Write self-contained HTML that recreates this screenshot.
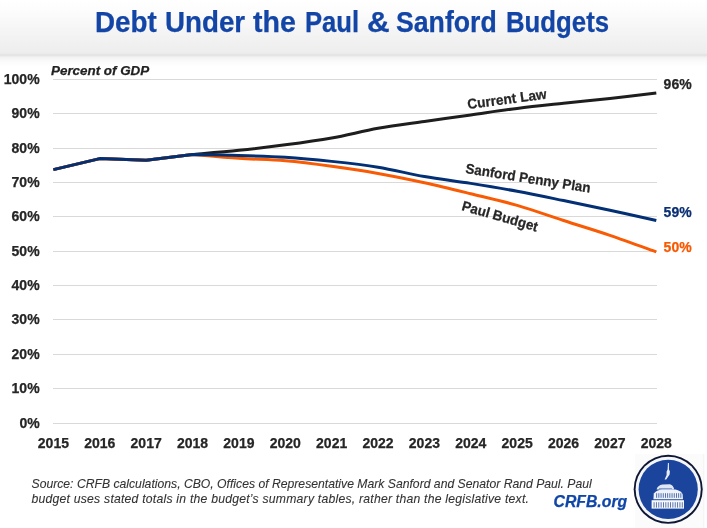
<!DOCTYPE html>
<html><head><meta charset="utf-8">
<style>
*{margin:0;padding:0;box-sizing:border-box}
html,body{width:707px;height:528px;overflow:hidden;background:#fff}
body{position:relative;will-change:transform;-webkit-text-stroke:0.25px currentColor;font-family:"Liberation Sans",sans-serif}
.bar{position:absolute;left:0;top:0;width:707px;height:67px;background:linear-gradient(#ffffff 0px,#fcfcfc 12px,#f5f5f5 30px,#efefef 47px,#eeeeee 52px,#ebebeb 53.5px,#e1e1e1 55px,#ebebeb 56.3px,#f3f3f3 57.5px,#fafafa 61px,#ffffff 66px)}
.title{position:absolute;top:8px;font-size:28.8px;line-height:28.8px;font-weight:bold;color:#1245a6;white-space:nowrap;transform-origin:0 0}
.pog{position:absolute;left:51px;top:63.6px;font-size:13.4px;line-height:13.4px;font-weight:bold;font-style:italic;color:#222;white-space:nowrap}
.yl{position:absolute;right:667.4px;font-size:14px;line-height:14px;font-weight:bold;color:#262626;text-align:right;white-space:nowrap}
.xl{position:absolute;width:60px;font-size:14px;line-height:14px;font-weight:bold;color:#262626;text-align:center;white-space:nowrap}
.rl{position:absolute;font-size:14px;line-height:14px;font-weight:bold;color:#262626;white-space:nowrap}
.el{position:absolute;left:663.6px;font-size:14px;line-height:14px;font-weight:bold;white-space:nowrap}
.src{-webkit-text-stroke:0.1px currentColor;position:absolute;left:31.5px;font-size:12.2px;line-height:12.2px;font-style:italic;color:#333;white-space:nowrap;transform-origin:0 0}
.crfb{position:absolute;left:553.5px;top:493.96px;font-size:15.8px;line-height:15.8px;font-weight:bold;font-style:italic;color:#1046a8;white-space:nowrap}
svg{position:absolute;left:0;top:0}
</style></head><body>
<div class="bar"></div>
<div class="title" style="left:94.53px;transform:scaleX(0.9651)">Debt</div><div class="title" style="left:165.34px;transform:scaleX(0.9634)">Under</div><div class="title" style="left:253.20px;transform:scaleX(0.9930)">the</div><div class="title" style="left:305.01px;transform:scaleX(0.8898)">Paul</div><div class="title" style="left:367.21px;transform:scaleX(1.0895)">&amp;</div><div class="title" style="left:396.27px;transform:scaleX(0.9262)">Sanford</div><div class="title" style="left:506.31px;transform:scaleX(0.8947)">Budgets</div>
<div class="pog">Percent of GDP</div>
<svg width="707" height="528" viewBox="0 0 707 528">
<g fill="#d9d9d9"><rect x="53" y="423" width="604" height="1"/><rect x="53" y="388" width="604" height="1"/><rect x="53" y="354" width="604" height="1"/><rect x="53" y="319" width="604" height="1"/><rect x="53" y="285" width="604" height="1"/><rect x="53" y="251" width="604" height="1"/><rect x="53" y="216" width="604" height="1"/><rect x="53" y="182" width="604" height="1"/><rect x="53" y="148" width="604" height="1"/><rect x="53" y="113" width="604" height="1"/><rect x="53" y="79" width="604" height="1"/></g>
<g fill="none" stroke-width="3" stroke-linejoin="round" stroke-linecap="butt">
<path stroke="#1e1e1e" d="M53.40,169.63 L99.78,158.62 L146.15,160.34 L192.53,154.49 C200.26,153.80 223.45,151.97 238.91,150.36 C254.37,148.76 269.83,146.92 285.28,144.86 C300.74,142.80 316.20,140.73 331.66,137.98 C347.12,135.23 362.58,131.10 378.04,128.35 C393.50,125.60 408.96,123.70 424.42,121.47 C439.87,119.23 455.33,117.11 470.79,114.93 C486.25,112.75 501.71,110.35 517.17,108.40 C532.63,106.45 548.09,104.90 563.55,103.24 C579.01,101.57 594.46,100.14 609.92,98.42 C625.38,96.70 648.57,93.83 656.30,92.92"/>
<path stroke="#f95b04" d="M53.40,169.63 L99.78,158.62 L146.15,160.34 L192.53,154.49 C200.26,155.12 223.45,157.24 238.91,158.28 C254.37,159.31 269.83,159.37 285.28,160.68 C300.74,162.00 316.20,164.07 331.66,166.19 C347.12,168.31 362.58,170.66 378.04,173.41 C393.50,176.16 408.96,179.32 424.42,182.70 C439.87,186.08 455.33,189.92 470.79,193.71 C486.25,197.49 501.71,200.93 517.17,205.40 C532.63,209.88 548.09,215.55 563.55,220.54 C579.01,225.53 594.46,230.11 609.92,235.33 C625.38,240.55 648.57,249.09 656.30,251.84"/>
<path stroke="#032f74" d="M53.40,169.63 L99.78,158.62 L146.15,160.34 L192.53,154.49 C200.26,154.66 223.45,155.07 238.91,155.52 C254.37,155.98 269.83,156.27 285.28,157.24 C300.74,158.22 316.20,159.71 331.66,161.37 C347.12,163.03 362.58,164.70 378.04,167.22 C393.50,169.74 408.96,173.81 424.42,176.51 C439.87,179.20 455.33,180.92 470.79,183.39 C486.25,185.85 501.71,188.43 517.17,191.30 C532.63,194.17 548.09,197.43 563.55,200.59 C579.01,203.74 594.46,206.89 609.92,210.22 C625.38,213.55 648.57,218.82 656.30,220.54"/>
</g>
</svg>
<div class="yl" style="top:416px">0%</div><div class="yl" style="top:381px">10%</div><div class="yl" style="top:347px">20%</div><div class="yl" style="top:312px">30%</div><div class="yl" style="top:278px">40%</div><div class="yl" style="top:244px">50%</div><div class="yl" style="top:209px">60%</div><div class="yl" style="top:175px">70%</div><div class="yl" style="top:141px">80%</div><div class="yl" style="top:106px">90%</div><div class="yl" style="top:72px">100%</div>
<div class="xl" style="left:23.40px;top:436px">2015</div><div class="xl" style="left:69.78px;top:436px">2016</div><div class="xl" style="left:116.15px;top:436px">2017</div><div class="xl" style="left:162.53px;top:436px">2018</div><div class="xl" style="left:208.91px;top:436px">2019</div><div class="xl" style="left:255.28px;top:436px">2020</div><div class="xl" style="left:301.66px;top:436px">2021</div><div class="xl" style="left:348.04px;top:436px">2022</div><div class="xl" style="left:394.42px;top:436px">2023</div><div class="xl" style="left:440.79px;top:436px">2024</div><div class="xl" style="left:487.17px;top:436px">2025</div><div class="xl" style="left:533.55px;top:436px">2026</div><div class="xl" style="left:579.92px;top:436px">2027</div><div class="xl" style="left:626.30px;top:436px">2028</div>
<div class="rl" style="left:468.30px;top:97.00px;transform-origin:0 12.00px;transform:rotate(-7.5deg) scaleX(0.975)">Current Law</div>
<div class="rl" style="left:464.60px;top:161.40px;transform-origin:0 12.00px;transform:rotate(9deg) scaleX(0.955)">Sanford Penny Plan</div>
<div class="rl" style="left:461.20px;top:197.80px;transform-origin:0 12.00px;transform:rotate(16deg) scaleX(0.96)">Paul Budget</div>
<div class="el" style="top:77px;color:#262626">96%</div>
<div class="el" style="top:205px;color:#0b2f73">59%</div>
<div class="el" style="top:240px;color:#f85a00">50%</div>
<div class="src" style="top:477.54px">Source: CRFB calculations, CBO, Offices of Representative Mark Sanford and Senator Rand Paul. Paul</div>
<div class="src" style="top:492.84px;letter-spacing:0.23px">budget uses stated totals in the budget’s summary tables, rather than the legislative text.</div>
<div class="crfb">CRFB.org</div>
<svg width="707" height="528" viewBox="0 0 707 528" style="position:absolute;left:0;top:0">
<rect x="635" y="454" width="69" height="74" fill="#fbfbfb"/>
<rect x="703.5" y="454" width="0.8" height="74" fill="#f0f0f0"/>
<circle cx="668.2" cy="489.3" r="34.5" fill="#0d1633"/>
<circle cx="668.2" cy="489.3" r="32.6" fill="#f4f6fa"/>
<circle cx="668.2" cy="489.3" r="29.6" fill="#1b449c"/>
<path d="M667.9,463 L668.9,463 L669.0,469.5 L669.9,471.5 L669.6,474.6 L666.2,479.6 L664.6,479.6 L666.6,475.0 L666.6,471.6 L667.6,469.5 Z" fill="#e8eef8"/>
<path d="M656.6,489.4 Q657.6,485.2 662.5,484.4 L670,484.2 Q673.4,485.2 674.2,489.4 Z" fill="#dfe7f5"/>
<path d="M659,488.6 L672,488.6" stroke="#5a76b5" stroke-width="0.7"/>
<path d="M653.4,499.3 L653.8,493.6 Q656.5,489.8 662,489.4 L675.5,489.4 Q680.8,490.5 682.6,494 L683,499.3 Z" fill="#edf1f8"/>
<rect x="656.20" y="493.2" width="0.9" height="4.6" fill="#4563a6"/>
<rect x="658.40" y="493.2" width="0.9" height="4.6" fill="#4563a6"/>
<rect x="660.60" y="493.2" width="0.9" height="4.6" fill="#4563a6"/>
<rect x="662.80" y="493.2" width="0.9" height="4.6" fill="#4563a6"/>
<rect x="665.00" y="493.2" width="0.9" height="4.6" fill="#4563a6"/>
<rect x="667.20" y="493.2" width="0.9" height="4.6" fill="#4563a6"/>
<rect x="669.40" y="493.2" width="0.9" height="4.6" fill="#4563a6"/>
<rect x="671.60" y="493.2" width="0.9" height="4.6" fill="#4563a6"/>
<rect x="673.80" y="493.2" width="0.9" height="4.6" fill="#4563a6"/>
<rect x="676.00" y="493.2" width="0.9" height="4.6" fill="#4563a6"/>
<rect x="678.20" y="493.2" width="0.9" height="4.6" fill="#4563a6"/>
<rect x="680.40" y="493.2" width="0.9" height="4.6" fill="#4563a6"/>
<rect x="651.6" y="500.2" width="32.4" height="8.4" fill="#f6f8fc"/>
<rect x="653.60" y="502.2" width="0.95" height="5.4" fill="#5570aa"/>
<rect x="655.95" y="502.2" width="0.95" height="5.4" fill="#5570aa"/>
<rect x="658.30" y="502.2" width="0.95" height="5.4" fill="#5570aa"/>
<rect x="660.65" y="502.2" width="0.95" height="5.4" fill="#5570aa"/>
<rect x="663.00" y="502.2" width="0.95" height="5.4" fill="#5570aa"/>
<rect x="665.35" y="502.2" width="0.95" height="5.4" fill="#5570aa"/>
<rect x="667.70" y="502.2" width="0.95" height="5.4" fill="#5570aa"/>
<rect x="670.05" y="502.2" width="0.95" height="5.4" fill="#5570aa"/>
<rect x="672.40" y="502.2" width="0.95" height="5.4" fill="#5570aa"/>
<rect x="674.75" y="502.2" width="0.95" height="5.4" fill="#5570aa"/>
<rect x="677.10" y="502.2" width="0.95" height="5.4" fill="#5570aa"/>
<rect x="679.45" y="502.2" width="0.95" height="5.4" fill="#5570aa"/>
<rect x="681.80" y="502.2" width="0.95" height="5.4" fill="#5570aa"/>
</svg>
</body></html>
